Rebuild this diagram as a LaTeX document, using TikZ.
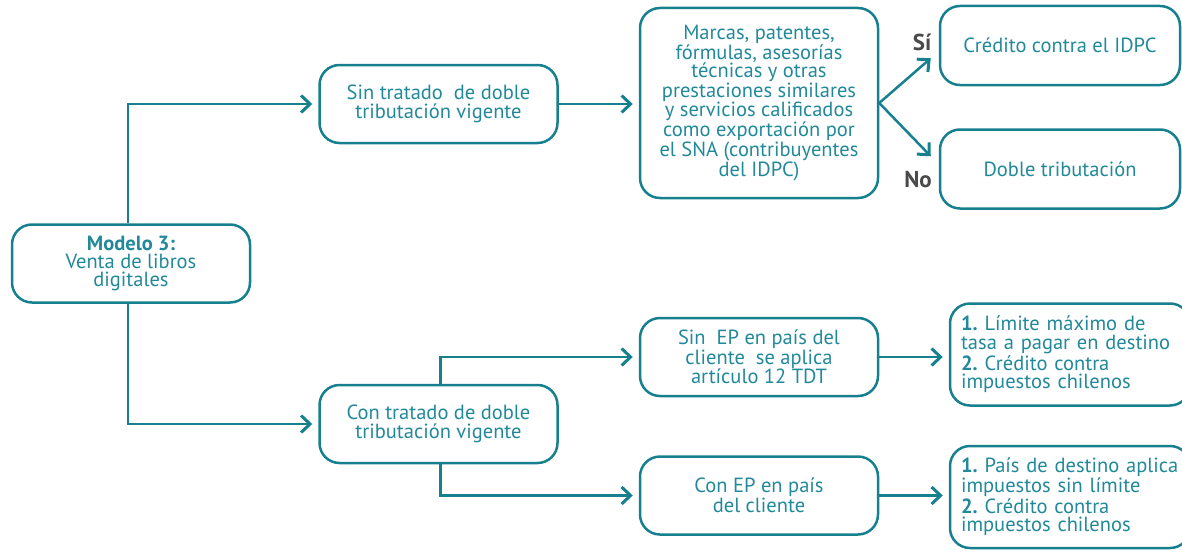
\documentclass[tikz,border=0pt]{standalone}
\usepackage{fontspec}
\setmainfont{PT Sans}
\frenchspacing
\usetikzlibrary{arrows.meta,calc,positioning}
\definecolor{Teal}{HTML}{17808F}
\definecolor{TealText}{HTML}{21899A}
\definecolor{Gray}{HTML}{4A4A4A}
\begin{document}
\begin{tikzpicture}[x=1pt,y=-1pt,
    box/.style={draw=Teal,line width=2.5pt,rounded corners=20pt,align=center,text=TealText,
      font=\fontsize{20.5}{18.3}\selectfont,inner sep=0pt,minimum width=238pt,minimum height=78pt},
    listbox/.style={box,align=left,minimum width=240pt,minimum height=102pt,text width=218pt,inner xsep=11pt},
    link/.style={Teal,line width=2.5pt,shorten >=6pt,-{Straight Barb[length=9pt,width=17pt,line width=3pt]}},
    ans/.style={Gray,font=\fontsize{23}{23}\selectfont\bfseries}]
  \useasboundingbox(0,0)rectangle(1182,551);
  \node[box](modelo)at(131,263.5){\textbf{Modelo 3:}\\Venta de libros\\digitales};
  \node[box](sintra)at(438.5,104){Sin tratado\ \ de doble\\tributación vigente};
  \node[box](contra)at(438.5,424){Con tratado de doble\\tributación vigente};
  \node[box,minimum height=190pt](marcas)at(759,103){Marcas, patentes,\\fórmulas, asesorías\\técnicas y otras\\prestaciones similares\\y servicios calificados\\como exportación por\\el SNA (contribuyentes\\del IDPC)};
  \node[box,minimum width=240pt,minimum height=79pt](idpc)at(1060,45.5){Crédito contra el IDPC};
  \node[box,minimum width=240pt,minimum height=79pt](doble)at(1060,169){Doble tributación};
  \node[box](sinep)at(759,357){Sin\ \ EP en país del\\cliente\ \ se aplica\\artículo 12 TDT};
  \node[box](conep)at(759,495.5){Con EP en país\\del cliente};
  \node[listbox](limite)at(1070,354.5){\textbf{1.} Límite máximo de\\tasa a pagar en destino\\[1pt]\textbf{2.} Crédito contra\\impuestos chilenos};
  \node[listbox](sinlim)at(1070,497){\textbf{1.} País de destino aplica\\impuestos sin límite\\[1pt]\textbf{2.} Crédito contra\\impuestos chilenos};
  \node[ans](si)at(922,42){Sí};
  \node[ans](no)at(918,180){No};
  \draw[link]($(modelo.north)+(-3,0)$)|-(sintra.west);
  \draw[link]($(modelo.south)+(-3,0)$)|-(contra.west);
  \draw[link](sintra.east)--(marcas.west|-sintra.east);
  \draw[link,shorten >=0pt](marcas.east)--($(idpc.south west)+(-8,-28)$);
  \draw[link,shorten >=0pt](marcas.east)--($(doble.north west)+(-8,28)$);
  \draw[link]($(contra.north)+(2,0)$)|-(sinep.west);
  \draw[link]($(contra.south)+(2,0)$)|-(conep.west);
  \draw[link](sinep.east)--(sinep.east-|limite.west);
  \draw[link](conep.east)--(conep.east-|sinlim.west);
\end{tikzpicture}
\end{document}
